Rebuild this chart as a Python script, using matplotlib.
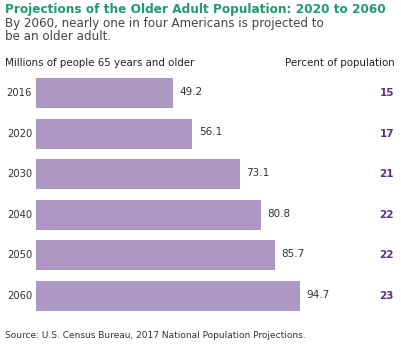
import numpy as np
import matplotlib.pyplot as plt

years = ['2016', '2020', '2030', '2040', '2050', '2060']
millions = [49.2, 56.1, 73.1, 80.8, 85.7, 94.7]
percent = [15, 17, 21, 22, 22, 23]

W, H = 402, 344
fig = plt.figure(figsize=(W / 100, H / 100), dpi=100)

# axes placed in pixel terms: bars start at x=36, 2.785 px per million
ax_left, ax_right = 36, 394
ax_top, ax_bot = 72.7, 316.3
ax = fig.add_axes([ax_left / W, 1 - ax_bot / H, (ax_right - ax_left) / W, (ax_bot - ax_top) / H])
ax.set_xlim(0, (ax_right - ax_left) / 2.785)
ax.set_ylim(5.5, -0.5)
ax.axis('off')

y = np.arange(len(years))
ax.barh(y, millions, height=0.74, color='#ad98c4')

for i in range(len(years)):
    ax.text(-1.4, y[i], years[i], ha='right', va='center', fontsize=7.2, color='#333333')
    ax.text(millions[i] + 2.4, y[i] - 0.03, '{0:.1f}'.format(millions[i]), ha='left', va='center',
            fontsize=7.5, color='#333333')
    ax.text(ax.get_xlim()[1], y[i], str(percent[i]), ha='right', va='center',
            fontsize=7.5, fontweight='bold', color='#5b2c86')

fig.text(5 / W, 1 - 9.5 / H, 'Projections of the Older Adult Population: 2020 to 2060',
         ha='left', va='center', fontsize=8.7, fontweight='bold', color='#1f9b6c')
fig.text(5 / W, 1 - 30 / H, 'By 2060, nearly one in four Americans is projected to\nbe an older adult.',
         ha='left', va='center', fontsize=8.6, color='#444444', linespacing=1.05)
fig.text(5 / W, 1 - 63 / H, 'Millions of people 65 years and older',
         ha='left', va='center', fontsize=7.4, color='#222222')
fig.text(395 / W, 1 - 63 / H, 'Percent of population',
         ha='right', va='center', fontsize=7.4, color='#222222')
fig.text(5 / W, 1 - 336 / H, 'Source: U.S. Census Bureau, 2017 National Population Projections.',
         ha='left', va='center', fontsize=6.5, color='#333333')

fig.savefig('out.png', dpi=100)
